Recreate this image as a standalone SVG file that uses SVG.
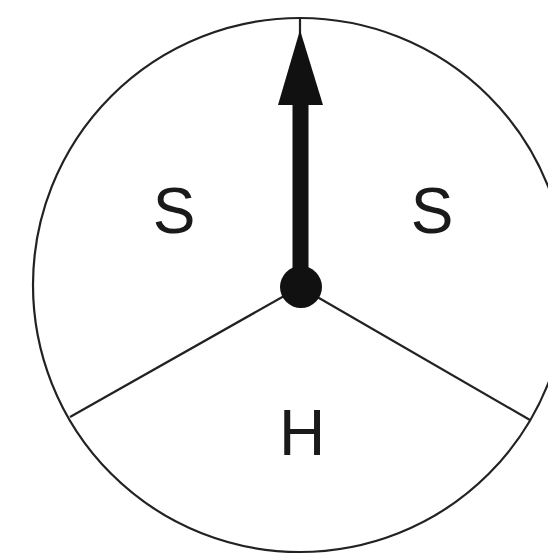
<svg xmlns="http://www.w3.org/2000/svg" width="548" height="555" viewBox="0 0 548 555">
<style>
.ln{stroke:#222;stroke-width:2.2;fill:none}
.lbl{font-family:"Liberation Sans",Arial,sans-serif;font-size:64px;fill:#1a1a1a;text-anchor:middle}
</style>
<rect width="548" height="555" fill="#fff"/>
<g id="spinner">
<circle class="ln" cx="300" cy="285" r="267"/>
</g>
<g id="connectors">
<line class="ln" x1="300" y1="18" x2="300" y2="287"/>
<line class="ln" x1="300" y1="287" x2="70" y2="417"/>
<line class="ln" x1="300" y1="287" x2="530" y2="420"/>
</g>
<g id="pointer">
<rect x="292.5" y="100" width="16" height="187" fill="#111"/>
<polygon points="300,30 278,105 323,105" fill="#111"/>
<circle cx="301" cy="287" r="21" fill="#111"/>
</g>
<g id="labels">
<text class="lbl" x="174" y="233">S</text>
<text class="lbl" x="432" y="233">S</text>
<text class="lbl" x="302" y="455">H</text>
</g>
</svg>
